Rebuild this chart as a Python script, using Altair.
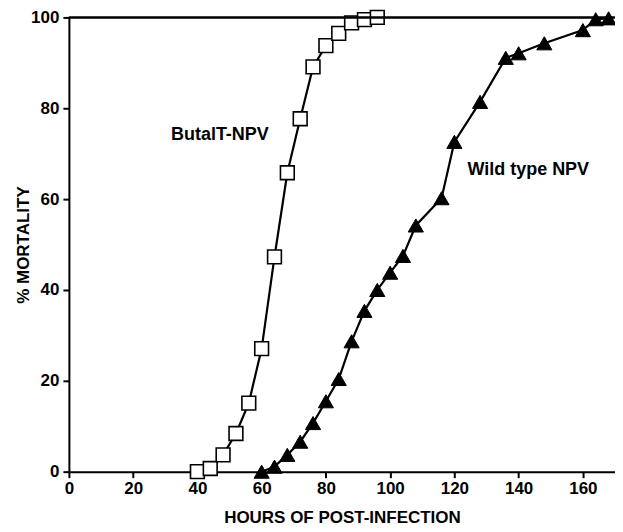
import altair as alt
import pandas as pd

butalt_hours = [40, 44, 48, 52, 56, 60, 64, 68, 72, 76, 80, 84, 88, 92, 96]
butalt_mort = [0, 0.7, 3.7, 8.4, 15.1, 27.1, 47.3, 65.8, 77.7, 89.1, 93.8, 96.5, 98.8, 99.5, 100]

wild_hours = [60, 64, 68, 72, 76, 80, 84, 88, 92, 96, 100, 104, 108, 116, 120, 128, 136, 140, 148, 160, 164, 168]
wild_mort = [0, 1.1, 3.7, 6.6, 10.7, 15.5, 20.4, 28.7, 35.4, 40, 43.8, 47.5, 54.2, 60.2, 72.6, 81.4, 91.1, 92.1, 94.3, 97.2, 99.6, 99.8]

label_text = ["ButalT-NPV", "Wild type NPV"]
label_x = [47, 143]
label_y = [74.2, 66.3]

df_b = pd.DataFrame({"hours": butalt_hours, "mort": butalt_mort})
df_w = pd.DataFrame({"hours": wild_hours, "mort": wild_mort})
df_l = pd.DataFrame({"text": label_text, "x": label_x, "y": label_y})

FONT = "Liberation Sans"

xs = alt.Scale(domain=[0, 170], nice=False, zero=False)
ys = alt.Scale(domain=[0, 100], nice=False)

xax = alt.Axis(values=list(range(0, 161, 20)), title="HOURS OF POST-INFECTION", grid=False,
               tickSize=6, tickWidth=2, domainWidth=2, domainColor="black", tickColor="black",
               labelFont=FONT, labelFontSize=17, labelFontWeight="bold", labelColor="black",
               labelPadding=3, titleFont=FONT, titleFontSize=17, titleFontWeight="bold",
               titleColor="black", titlePadding=13, labelFlush=False)
yax = alt.Axis(values=list(range(0, 101, 20)), title="% MORTALITY", grid=False,
               tickSize=6, tickWidth=2, domainWidth=2, domainColor="black", tickColor="black",
               labelFont=FONT, labelFontSize=17, labelFontWeight="bold", labelColor="black",
               labelPadding=4, titleFont=FONT, titleFontSize=17, titleFontWeight="bold",
               titleColor="black", titlePadding=-2, labelFlush=False)

border = alt.Chart(df_l).mark_rule(color="black", strokeWidth=2).encode(
    x=alt.value(0), x2=alt.value(548), y=alt.value(0))

line_b = alt.Chart(df_b).mark_line(color="black", strokeWidth=2.2).encode(
    x=alt.X("hours:Q", scale=xs, axis=xax), y=alt.Y("mort:Q", scale=ys, axis=yax))
pts_b = alt.Chart(df_b).mark_point(shape="square", size=190, filled=True, fill="white",
                                   stroke="black", strokeWidth=1.6, opacity=1).encode(
    x=alt.X("hours:Q", scale=xs), y=alt.Y("mort:Q", scale=ys))
line_w = alt.Chart(df_w).mark_line(color="black", strokeWidth=2.2).encode(
    x=alt.X("hours:Q", scale=xs), y=alt.Y("mort:Q", scale=ys))
pts_w = alt.Chart(df_w).mark_point(shape="triangle-up", size=230, filled=True, fill="black",
                                   stroke="black", strokeWidth=1, opacity=1).encode(
    x=alt.X("hours:Q", scale=xs), y=alt.Y("mort:Q", scale=ys))
labels = alt.Chart(df_l).mark_text(font=FONT, fontSize=18, fontWeight="bold", color="black").encode(
    x=alt.X("x:Q", scale=xs), y=alt.Y("y:Q", scale=ys), text="text:N")

chart = alt.layer(line_b, line_w, pts_w, pts_b, labels, border).properties(
    width=547, height=455,
    autosize=alt.AutoSizeParams(type="none"),
    padding={"left": 61, "top": 9, "right": 0, "bottom": 60},
).configure_view(stroke="black", strokeWidth=2).configure(background="white")

chart.save("out.html", embed_options={"renderer": "svg", "actions": False})
